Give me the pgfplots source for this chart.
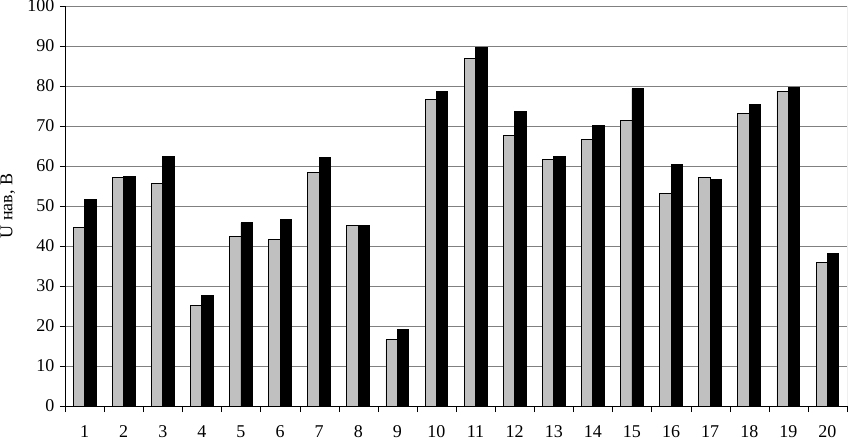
\documentclass[border=0pt]{standalone}
\usepackage{pgfplots}
\pgfplotsset{compat=1.18}
\usepackage{fontspec}
\setmainfont{Liberation Serif}
\usetikzlibrary{calc}
\definecolor{barGray}{HTML}{C0C0C0}
\definecolor{gridGray}{HTML}{808080}
\begin{document}
\begin{tikzpicture}
\begin{axis}[
  name=ax,
  scale only axis,
  width=782pt, height=400pt,
  xmin=0.5, xmax=20.5,
  ymin=0, ymax=100,
  ytick={0,10,...,100},
  xtick={1,...,20},
  minor xtick={0.5,1.5,...,20.5},
  major x tick style={draw=none},
  minor x tick style={black},
  tick align=outside,
  major tick length=5pt,
  minor tick length=6pt,
  axis x line*=bottom,
  axis y line*=left,
  axis line style={black, line width=0.8pt},
  ymajorgrids,
  major grid style={gridGray, line width=0.8pt},
  ytick style={black},
  ybar=0pt,
  bar width=0.291,
  font=\fontsize{18}{20}\selectfont,
  /pgf/number format/assume math mode=true,
  yticklabel style={anchor=east, xshift=-2pt},
  xticklabel style={anchor=north, yshift=-11pt},
  ylabel={U нав, В},
  every axis y label/.style={at={(axis description cs:-0.0729,0.5)}, anchor=center, rotate=90},
]
\addplot[fill=barGray, draw=black, line width=0.8pt] coordinates {
(1,44.75) (2,57.25) (3,55.7) (4,25.1) (5,42.3) (6,41.7) (7,58.5) (8,45.1) (9,16.6) (10,76.75)
(11,87) (12,67.6) (13,61.6) (14,66.6) (15,71.5) (16,53.25) (17,57.1) (18,73.25) (19,78.7) (20,36)};
\addplot[fill=black, draw=black, line width=0.8pt] coordinates {
(1,51.6) (2,57.4) (3,62.5) (4,27.6) (5,45.8) (6,46.6) (7,62.1) (8,45.2) (9,19.1) (10,78.75)
(11,89.6) (12,73.7) (13,62.5) (14,70.2) (15,79.3) (16,60.3) (17,56.75) (18,75.5) (19,79.75) (20,38.1)};
\draw[gridGray, line width=0.8pt] (rel axis cs:1,0) -- (rel axis cs:1,1);
\end{axis}
\pgfresetboundingbox
\path ($(ax.south west)+(-65pt,-34pt)$) rectangle ($(ax.north east)+(1pt,6pt)$);
\end{tikzpicture}
\end{document}
